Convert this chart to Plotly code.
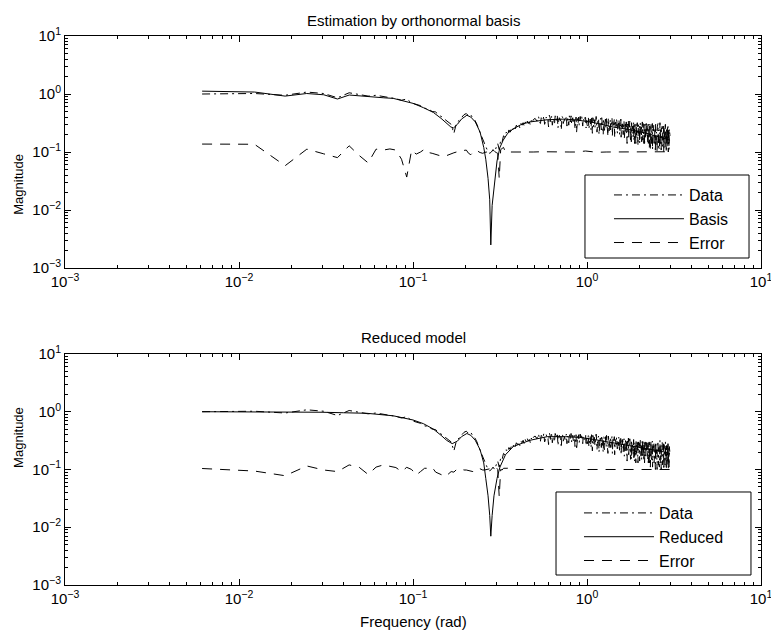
import numpy as np
import plotly.graph_objects as go

# ---------------- data (frequency bin k -> k*pi/512 rad) ----------------
data_lo = [1.00, 1.02, 0.95, 1.08, 1.02, 0.86, 1.05, 0.98, 0.92, 0.95,
           0.90, 0.88, 0.83, 0.78, 0.82, 0.70, 0.66, 0.63, 0.57, 0.55,
           0.50, 0.49, 0.43, 0.40, 0.36, 0.33, 0.30, 0.21, 0.32, 0.35,
           0.40, 0.44, 0.46, 0.42, 0.44, 0.38, 0.35, 0.30, 0.24, 0.20,
           0.16, 0.14, 0.12, 0.10, 0.095, 0.10, 0.11, 0.10, 0.12, 0.14,
           0.11, 0.16, 0.15, 0.19, 0.18, 0.22, 0.20, 0.24, 0.22, 0.26,
           0.24, 0.28, 0.25, 0.29, 0.27, 0.30, 0.26, 0.31, 0.29, 0.32,
           0.28, 0.33, 0.30, 0.34, 0.31, 0.33, 0.29, 0.35, 0.32, 0.36]
# even bins 82, 84, ..., 488
data_hi_even = [0.38, 0.34, 0.40, 0.31, 0.37, 0.42, 0.33, 0.36, 0.27, 0.39,
                0.41, 0.35, 0.30, 0.38, 0.43, 0.34, 0.37, 0.24, 0.40, 0.36,
                0.33, 0.41, 0.38, 0.29, 0.35, 0.42, 0.37, 0.31, 0.39, 0.34,
                0.22, 0.38, 0.40, 0.33, 0.36, 0.41, 0.28, 0.37, 0.34, 0.39,
                0.35, 0.28, 0.40, 0.31, 0.37, 0.24, 0.33, 0.39, 0.27, 0.36,
                0.30, 0.41, 0.22, 0.34, 0.38, 0.29, 0.35, 0.26, 0.39, 0.32,
                0.20, 0.36, 0.30, 0.37, 0.25, 0.34, 0.28, 0.38, 0.23, 0.33,
                0.36, 0.27, 0.31, 0.19, 0.35, 0.29, 0.37, 0.24, 0.32, 0.27,
                0.34, 0.21, 0.30, 0.36, 0.25, 0.33, 0.28, 0.18, 0.32, 0.26,
                0.31, 0.22, 0.34, 0.19, 0.28, 0.25, 0.33, 0.16, 0.29, 0.23,
                0.35, 0.20, 0.27, 0.30, 0.15, 0.26, 0.32, 0.21, 0.28, 0.18,
                0.33, 0.24, 0.14, 0.29, 0.22, 0.31, 0.19, 0.27, 0.25, 0.13,
                0.30, 0.21, 0.28, 0.17, 0.32, 0.23, 0.26, 0.15, 0.29, 0.20,
                0.31, 0.24, 0.14, 0.27, 0.22, 0.30, 0.18, 0.26, 0.21, 0.29,
                0.26, 0.15, 0.30, 0.19, 0.24, 0.12, 0.28, 0.21, 0.17, 0.31,
                0.14, 0.25, 0.20, 0.11, 0.27, 0.18, 0.29, 0.13, 0.23, 0.26,
                0.12, 0.30, 0.16, 0.22, 0.19, 0.10, 0.28, 0.15, 0.24, 0.20,
                0.12, 0.27, 0.17, 0.32, 0.13, 0.22, 0.18, 0.26, 0.11, 0.25,
                0.16, 0.29, 0.14, 0.21, 0.10, 0.27, 0.19, 0.23, 0.12, 0.30,
                0.15, 0.20, 0.11, 0.26, 0.17, 0.24, 0.13, 0.28, 0.10, 0.22,
                0.16, 0.25, 0.12, 0.20]
# odd bins 83, 85, ..., 489
data_hi_odd = [0.36, 0.41, 0.32, 0.39, 0.35, 0.30, 0.40, 0.37, 0.43, 0.33,
               0.29, 0.38, 0.42, 0.35, 0.26, 0.39, 0.34, 0.41, 0.31, 0.37,
               0.40, 0.28, 0.36, 0.42, 0.33, 0.30, 0.39, 0.35, 0.25, 0.40,
               0.37, 0.32, 0.29, 0.41, 0.36, 0.30, 0.38, 0.33, 0.40, 0.26,
               0.30, 0.38, 0.25, 0.35, 0.29, 0.40, 0.21, 0.37, 0.31, 0.26,
               0.39, 0.33, 0.28, 0.36, 0.20, 0.32, 0.38, 0.24, 0.34, 0.29,
               0.37, 0.22, 0.33, 0.27, 0.39, 0.30, 0.19, 0.35, 0.28, 0.36,
               0.24, 0.31, 0.38, 0.22, 0.29, 0.34, 0.18, 0.33, 0.27, 0.36,
               0.23, 0.30, 0.26, 0.35, 0.20, 0.31, 0.37, 0.24, 0.28, 0.33,
               0.20, 0.30, 0.17, 0.27, 0.33, 0.21, 0.25, 0.14, 0.31, 0.24,
               0.18, 0.28, 0.34, 0.19, 0.26, 0.15, 0.30, 0.22, 0.27, 0.33,
               0.16, 0.25, 0.30, 0.20, 0.13, 0.28, 0.23, 0.32, 0.18, 0.26,
               0.21, 0.29, 0.14, 0.24, 0.31, 0.17, 0.27, 0.22, 0.33, 0.16,
               0.25, 0.19, 0.30, 0.13, 0.28, 0.23, 0.17, 0.31, 0.20, 0.26,
               0.18, 0.28, 0.13, 0.24, 0.30, 0.16, 0.21, 0.11, 0.27, 0.19,
               0.25, 0.14, 0.31, 0.20, 0.12, 0.23, 0.28, 0.15, 0.19, 0.26,
               0.10, 0.29, 0.17, 0.22, 0.13, 0.27, 0.20, 0.31, 0.12, 0.24,
               0.18, 0.11, 0.28, 0.15, 0.21, 0.26, 0.10, 0.23, 0.19, 0.30,
               0.12, 0.25, 0.16, 0.28, 0.11, 0.20, 0.24, 0.14, 0.29, 0.17,
               0.22, 0.10, 0.26, 0.15, 0.19, 0.27, 0.12, 0.23, 0.18, 0.25,
               0.11, 0.21, 0.14, 0.19]

_pairs = (list(zip(range(1, 81), data_lo))
          + list(zip(range(82, 82 + 2 * len(data_hi_even), 2), data_hi_even))
          + list(zip(range(83, 83 + 2 * len(data_hi_odd), 2), data_hi_odd)))
_pairs.sort()
data_bins = [b for b, _ in _pairs]
data_vals = [v for _, v in _pairs]

basis_freq = [0.00614, 0.0123, 0.0184, 0.0245, 0.0307, 0.0368, 0.043, 0.049,
              0.055, 0.061, 0.068, 0.077, 0.088, 0.10, 0.115, 0.131, 0.145,
              0.156, 0.165, 0.171, 0.18, 0.19, 0.204, 0.215, 0.228, 0.243,
              0.255, 0.262, 0.27, 0.276, 0.280, 0.285, 0.29, 0.297, 0.304,
              0.316, 0.33, 0.35, 0.377, 0.42, 0.47, 0.59, 0.75, 0.91, 1.1,
              1.41, 1.8, 2.2, 2.6, 3.0]
basis_vals = [1.12, 1.08, 0.92, 1.02, 0.97, 0.82, 0.96, 0.93,
              0.88, 0.88, 0.86, 0.84, 0.76, 0.69, 0.58, 0.48, 0.38,
              0.31, 0.27, 0.26, 0.30, 0.37, 0.43, 0.40, 0.33, 0.22,
              0.12, 0.075, 0.035, 0.015, 0.0025, 0.012, 0.02, 0.045, 0.07,
              0.12, 0.16, 0.21, 0.25, 0.30, 0.33, 0.36, 0.37, 0.35, 0.32,
              0.27, 0.24, 0.21, 0.18, 0.16]

reduced_freq = [0.00614, 0.0123, 0.02, 0.03, 0.04, 0.0542, 0.077, 0.088,
                0.10, 0.115, 0.131, 0.145, 0.156, 0.168, 0.18, 0.19, 0.204,
                0.215, 0.228, 0.243, 0.255, 0.262, 0.27, 0.276, 0.280, 0.285,
                0.292, 0.304, 0.316, 0.34, 0.377, 0.47, 0.59, 0.75, 0.91,
                1.1, 1.41, 1.8, 2.2, 2.6, 3.0]
reduced_vals = [1.00, 1.00, 0.99, 0.98, 0.96, 0.94, 0.85, 0.79,
                0.72, 0.62, 0.50, 0.39, 0.32, 0.28, 0.31, 0.37, 0.42,
                0.39, 0.32, 0.22, 0.13, 0.07, 0.035, 0.016, 0.007, 0.016,
                0.035, 0.07, 0.11, 0.18, 0.25, 0.32, 0.37, 0.37, 0.36,
                0.33, 0.29, 0.26, 0.23, 0.21, 0.19]

err_bins = list(range(1, 61)) + [66, 72, 80, 90, 100, 115, 130, 140, 150, 160,
                                 175, 190, 210, 240, 280, 330, 380, 420, 450,
                                 470, 489]
err_top = [0.137, 0.136, 0.058, 0.112, 0.093, 0.080, 0.128, 0.087, 0.065, 0.112,
           0.108, 0.113, 0.108, 0.075, 0.037, 0.108, 0.092, 0.100, 0.112, 0.098,
           0.095, 0.091, 0.087, 0.084, 0.085, 0.090, 0.095, 0.097, 0.100, 0.100,
           0.105, 0.108, 0.108, 0.095, 0.090, 0.098, 0.105, 0.108, 0.100, 0.097,
           0.095, 0.098, 0.100, 0.097, 0.095, 0.098, 0.100, 0.102, 0.098, 0.095,
           0.035, 0.110, 0.115, 0.120, 0.105, 0.100, 0.102, 0.098, 0.100, 0.100,
           0.100, 0.098, 0.100, 0.101, 0.100, 0.099, 0.100, 0.100, 0.102, 0.104,
           0.101, 0.099, 0.100, 0.100, 0.100, 0.101, 0.100, 0.100, 0.102, 0.100,
           0.101]
err_bot = [0.104, 0.094, 0.078, 0.115, 0.098, 0.092, 0.120, 0.109, 0.082, 0.110,
           0.120, 0.115, 0.108, 0.092, 0.109, 0.100, 0.080, 0.092, 0.105, 0.105,
           0.109, 0.090, 0.086, 0.080, 0.075, 0.085, 0.092, 0.090, 0.100, 0.105,
           0.100, 0.098, 0.098, 0.095, 0.092, 0.092, 0.100, 0.105, 0.105, 0.100,
           0.098, 0.098, 0.100, 0.100, 0.102, 0.105, 0.105, 0.110, 0.109, 0.100,
           0.034, 0.100, 0.098, 0.105, 0.105, 0.108, 0.105, 0.100, 0.100, 0.102,
           0.100, 0.099, 0.100, 0.100, 0.101, 0.100, 0.099, 0.100, 0.100, 0.101,
           0.100, 0.100, 0.099, 0.100, 0.100, 0.100, 0.101, 0.100, 0.100, 0.100,
           0.100]

tick_vals = [0.001, 0.01, 0.1, 1, 10]
tick_text = ["10<sup>−3</sup>", "10<sup>−2</sup>", "10<sup>−1</sup>",
             "10<sup>0</sup>", "10<sup>1</sup>"]

# ---------------- figure ----------------
to_freq = lambda bins: np.array(bins, dtype=float) * np.pi / 512

FONT = "Liberation Sans, Arial, sans-serif"
DASHDOT = "8px,4px,2px,4px"
DASHED = "10px,8px"

fig = go.Figure()

def add_set(model_name, model_f, model_v, err_v, xa, ya, leg):
    fig.add_trace(go.Scatter(x=to_freq(data_bins), y=data_vals, mode="lines",
                             name="Data", line=dict(color="black", width=1, dash=DASHDOT),
                             xaxis=xa, yaxis=ya, legend=leg))
    fig.add_trace(go.Scatter(x=model_f, y=model_v, mode="lines", name=model_name,
                             line=dict(color="black", width=1),
                             xaxis=xa, yaxis=ya, legend=leg))
    fig.add_trace(go.Scatter(x=to_freq(err_bins), y=err_v, mode="lines", name="Error",
                             line=dict(color="black", width=1, dash=DASHED),
                             xaxis=xa, yaxis=ya, legend=leg))

add_set("Basis", basis_freq, basis_vals, err_top, "x", "y", "legend")
add_set("Reduced", reduced_freq, reduced_vals, err_bot, "x2", "y2", "legend2")

axis_common = dict(type="log", range=[-3, 1], showgrid=False, zeroline=False,
                   showline=True, linecolor="black", linewidth=1, mirror="ticks",
                   ticks="inside", ticklen=6, tickcolor="black",
                   tickmode="array", tickvals=tick_vals, ticktext=tick_text,
                   ticklabeloverflow="allow", automargin=False,
                   tickfont=dict(family=FONT, size=15, color="black"),
                   minor=dict(ticks="inside", ticklen=3, tickcolor="black",
                              dtick="D1", showgrid=False))

top_dom = [0.5774, 1.0]
bot_dom = [0.0, 0.4208]

legend_common = dict(xanchor="left", yanchor="top",
                     borderwidth=0, bgcolor="rgba(0,0,0,0)",
                     font=dict(family=FONT, size=16, color="black"),
                     itemwidth=70, tracegroupgap=0)

frame = dict(type="rect", xref="paper", yref="paper", line=dict(color="black", width=1),
             fillcolor="white", layer="above")

fig.update_layout(
    width=771, height=637,
    margin=dict(l=65, r=10, t=36, b=52, autoexpand=False),
    paper_bgcolor="white", plot_bgcolor="white",
    font=dict(family=FONT, color="black"),
    xaxis=dict(**axis_common, domain=[0, 1], anchor="y"),
    yaxis=dict(**axis_common, domain=top_dom, anchor="x"),
    xaxis2=dict(**axis_common, domain=[0, 1], anchor="y2"),
    yaxis2=dict(**axis_common, domain=bot_dom, anchor="x2"),
    legend=dict(x=0.7816, y=0.7413, **legend_common),
    legend2=dict(x=0.7385, y=0.1621, **legend_common),
    shapes=[
        dict(**frame, x0=0.7471, x1=0.9828, y0=0.5956, y1=0.7468),
        dict(**frame, x0=0.7055, x1=0.9856, y0=0.0182, y1=0.1694),
    ],
    annotations=[
        dict(text="Estimation by orthonormal basis", x=0.5, y=1.029, xref="paper",
             yref="paper", showarrow=False, font=dict(size=15), yanchor="middle"),
        dict(text="Reduced model", x=0.5, y=0.45, xref="paper", yref="paper",
             showarrow=False, font=dict(size=15), yanchor="middle"),
        dict(text="Magnitude", x=-0.0806, y=0.789, xref="paper", yref="paper",
             showarrow=False, textangle=-90, font=dict(size=13)),
        dict(text="Magnitude", x=-0.0806, y=0.2095, xref="paper", yref="paper",
             showarrow=False, textangle=-90, font=dict(size=13)),
        dict(text="Frequency (rad)", x=0.5, y=-0.0656, xref="paper", yref="paper",
             showarrow=False, font=dict(size=15), yanchor="middle"),
    ],
)

fig.write_html("out.html", config={"displayModeBar": False},
               post_script="document.body.style.margin='0';")
